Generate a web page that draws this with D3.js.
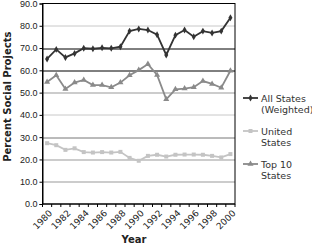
<!DOCTYPE html>
<html lang="en">
<head>
  <meta charset="utf-8">
  <title>Percent Social Projects</title>
  <script src="https://d3js.org/d3.v7.min.js"></script>
  <style>
    body { margin: 0; background: #fff; }
    svg { display: block; font-family: 'DejaVu Sans', Verdana, sans-serif; }
    .tick text { font-size: 9px; fill: #222; }
    .xlabel { font-size: 9px; fill: #222; }
    .axis-title { font-size: 10px; font-weight: bold; fill: #222; }
    .legend text { font-size: 9.5px; fill: #333; }
  </style>
</head>
<body>
<div id="chart"></div>
<script>
  // data
  var years = d3.range(1980, 2001);
  var allStates = [65.1, 69.4, 65.8, 67.6, 69.9, 69.7, 70.1, 69.9, 70.6, 77.6, 78.6,
                   78.1, 76.0, 66.9, 75.8, 78.1, 75.1, 77.6, 76.8, 77.6, 83.6];
  var unitedStates = [27.3, 26.4, 24.3, 25.0, 23.3, 23.1, 23.3, 23.1, 23.4, 20.7, 19.4,
                      21.6, 22.1, 21.3, 22.1, 22.2, 22.2, 22.1, 21.6, 20.9, 22.4];
  var top10 = [54.8, 57.8, 51.6, 54.5, 55.7, 53.4, 53.4, 52.4, 54.5, 57.8, 60.1,
               62.8, 57.9, 47.0, 51.5, 51.8, 52.4, 55.2, 53.9, 52.2, 59.8];
  var yTicks = [0, 10, 20, 30, 40, 50, 60, 70, 80, 90];

  var series = [
    { name: ["All States", "(Weighted)"], values: allStates, color: "#333333", shape: d3.symbolDiamond, size: 14 },
    { name: ["United", "States"], values: unitedStates, color: "#c4c4c4", shape: d3.symbolSquare, size: 16 },
    { name: ["Top 10", "States"], values: top10, color: "#8a8a8a", shape: d3.symbolTriangle, size: 16 }
  ];

  var W = 312, H = 246;
  var margin = { top: 3.5, right: 77, bottom: 42, left: 42.5 };
  var width = W - margin.left - margin.right,
      height = H - margin.top - margin.bottom;

  var svg = d3.select("#chart").append("svg")
      .attr("width", W).attr("height", H);
  var g = svg.append("g")
      .attr("transform", "translate(" + margin.left + "," + margin.top + ")");

  var x = d3.scaleBand().domain(years).range([0, width]);
  var y = d3.scaleLinear().domain([0, 90]).range([height, 0]);

  // gridlines (Excel rendered some darker than others)
  var gridColor = function (v) {
    if (v === 60 || v === 70) return "#000";
    if (v === 30) return "#777";
    if (v === 80 || v === 40) return "#c8c8c8";
    return "#999";
  };
  g.selectAll(".grid").data(yTicks.filter(function (v) { return v > 0 && v < 90; }))
    .enter().append("line")
    .attr("x1", 0).attr("x2", width)
    .attr("y1", function (d) { return Math.round(y(d)) + 0.5; })
    .attr("y2", function (d) { return Math.round(y(d)) + 0.5; })
    .attr("stroke", gridColor).attr("stroke-width", 1);

  // frame
  g.append("rect").attr("x", 0).attr("y", 0).attr("width", width).attr("height", height)
    .attr("fill", "none").attr("stroke", "#000").attr("stroke-width", 1);

  // y axis
  var yAxis = g.append("g")
    .call(d3.axisLeft(y).tickValues(yTicks).tickSize(3).tickPadding(2).tickFormat(d3.format(".1f")));
  yAxis.select(".domain").attr("stroke", "#000");

  // x axis: ticks on band edges, labels every other year
  var xAxis = g.append("g").attr("transform", "translate(0," + height + ")");
  xAxis.append("line").attr("x1", 0).attr("x2", width).attr("stroke", "#000");
  xAxis.selectAll(".xt").data(years.concat([2001])).enter().append("line")
    .attr("x1", function (d) { return d === 2001 ? width : x(d); })
    .attr("x2", function (d) { return d === 2001 ? width : x(d); })
    .attr("y1", 0).attr("y2", 3).attr("stroke", "#000");
  xAxis.selectAll(".xl").data(years.filter(function (d) { return d % 2 === 0; }))
    .enter().append("text")
    .attr("class", "xlabel")
    .attr("transform", function (d) {
      return "translate(" + (x(d) + x.bandwidth() / 2 + 2) + ",6) rotate(-45)";
    })
    .attr("text-anchor", "end")
    .attr("dy", "0.6em")
    .text(function (d) { return d; });

  // lines + markers
  var line = d3.line()
    .x(function (d, i) { return x(years[i]) + x.bandwidth() / 2; })
    .y(function (d) { return y(d); });

  series.forEach(function (s) {
    g.append("path").datum(s.values)
      .attr("fill", "none").attr("stroke", s.color).attr("stroke-width", 1.8)
      .attr("d", line);
    g.selectAll(null).data(s.values).enter().append("path")
      .attr("transform", function (d, i) {
        return "translate(" + (x(years[i]) + x.bandwidth() / 2) + "," + y(d) + ")";
      })
      .attr("d", d3.symbol().type(s.shape).size(s.size))
      .attr("fill", s.color);
  });

  // axis titles
  svg.append("text").attr("class", "axis-title")
    .attr("transform", "translate(11," + (margin.top + height / 2 - 7) + ") rotate(-90)")
    .attr("text-anchor", "middle")
    .text("Percent Social Projects");
  svg.append("text").attr("class", "axis-title")
    .attr("x", 134).attr("y", 243)
    .attr("text-anchor", "middle")
    .text("Year");

  // legend
  var legendY = [98, 131, 164];
  var legend = svg.append("g").attr("class", "legend");
  series.forEach(function (s, i) {
    var lg = legend.append("g").attr("transform", "translate(243," + legendY[i] + ")");
    lg.append("line").attr("x1", 0).attr("x2", 15).attr("stroke", s.color).attr("stroke-width", 1.8);
    lg.append("path").attr("transform", "translate(7.5,0)")
      .attr("d", d3.symbol().type(s.shape).size(s.size)).attr("fill", s.color);
    lg.selectAll("text").data(s.name).enter().append("text")
      .attr("x", 18).attr("y", function (d, j) { return j * 11 + 3.5; })
      .text(function (d) { return d; });
  });
</script>
</body>
</html>
